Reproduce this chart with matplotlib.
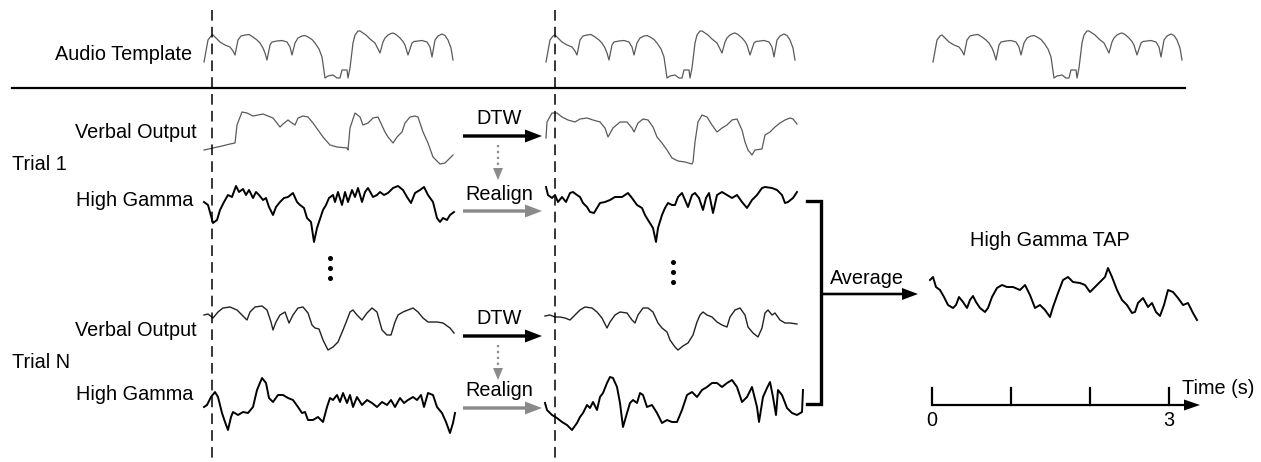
import numpy as np
import matplotlib.pyplot as plt

plt.rcParams['font.family'] = ['Liberation Sans', 'DejaVu Sans']

# ---------------- traces: (sample offset, amplitude) ----------------
# audio template (same shape drawn three times)
tmpl_t = [0, 4, 7, 9, 12, 16, 21, 26, 29, 31, 34, 37, 41, 45, 49, 53, 56, 59, 61, 63,
          66, 68, 73, 78, 83, 86, 88, 91, 94, 98, 101, 104, 108, 111, 115, 118, 121,
          124, 129, 133, 136, 138, 143, 144, 146, 149, 151, 154, 156, 159, 162, 166, 171, 176,
          179, 181, 184, 187, 189, 192, 196, 199, 201, 204,
          208, 210, 214, 218, 223, 226, 228, 231, 234, 238, 241, 244, 247, 249]
tmpl_v = [18, 40, 44, 45, 42, 38, 35, 33, 29, 25, 40, 44, 45, 45.5, 43, 40, 37, 32, 27, 20,
          35, 38, 39, 39.5, 38, 33, 25, 37, 42, 44, 44.5, 43, 40.5, 37, 31, 23, 2,
          4, 5, 2, 2, 10, 10, 2, 12, 37, 45, 49, 49, 47, 45, 41, 37, 27,
          38, 42, 45, 46.5, 47, 45.5, 42, 38.5, 35, 25,
          37, 38.5, 39, 39.5, 38, 33, 23, 40, 44, 46, 44.5, 40, 32, 20]

# trial 1, verbal output (raw)
vo1_t = [0, 9, 18, 26, 31, 33, 38, 43, 49, 59, 69, 76, 79, 84, 88, 91, 94, 99, 104, 109, 114, 119,
         126, 133, 143, 144, 146, 151, 156, 159, 164, 169, 174, 181, 184, 189, 193, 198, 201, 206,
         211, 214, 219, 224, 229, 233, 236, 241, 246, 249]
vo1_v = [15, 17, 19, 21, 22, 40, 53, 52, 49, 51, 47, 38, 41, 45, 42, 40, 47, 49, 48, 42, 35, 28,
         20, 18, 17, 15, 37, 52, 48, 40, 42, 47, 48, 33, 28, 22, 28, 33, 42, 48,
         49, 48, 33, 22, 8, 4, 1, 2, 7, 10]

# trial 1, high gamma (raw)
hg1_t = [0, 4, 9, 13, 16, 20, 24, 28, 32, 35, 39, 42, 45, 49, 52, 55, 59, 62, 65, 69, 72, 76, 80,
         84, 89, 93, 96, 100, 103, 107, 110, 113, 115, 119, 122, 125, 129, 131, 134, 138, 141, 144,
         148, 151, 154, 158, 161, 164, 169, 173, 176, 180, 184, 189, 194, 199, 203, 207, 211, 216,
         220, 224, 229, 233, 236, 239, 243, 246, 250]
hg1_v = [38, 35, 17, 20, 30, 38, 45, 43, 54, 48, 51, 45, 50, 42, 48, 45, 40, 42, 33, 25, 33, 38, 42,
         43, 47, 38, 35, 32, 22, 18, -2, 12, 18, 30, 35, 42, 45, 38, 48, 35, 48, 38,
         50, 43, 52, 38, 48, 52, 43, 45, 48, 45, 47, 52, 54, 50, 43, 37, 47, 50,
         53, 45, 38, 22, 18, 22, 20, 25, 28]

# trial 1, verbal output after DTW
avo1_t = [0, 1, 6, 11, 16, 22, 29, 34, 41, 47, 54, 59, 62, 67, 74, 81, 86, 88, 92, 97, 102, 107,
          111, 116, 121, 126, 132, 139, 146, 147, 149, 152, 156, 161, 166, 171, 176, 181, 186,
          191, 196, 199, 202, 206, 209, 216, 219, 224, 229, 234, 239, 244, 247, 251]
avo1_v = [27, 43, 52, 52, 48, 45, 43, 46, 47, 45, 43, 37, 28, 37, 43, 43, 37, 33, 42, 46, 45, 38,
          28, 22, 15, 7, 4, 3, 1, 3, 23, 43, 50, 48, 40, 33, 37, 40, 45,
          46, 35, 23, 15, 10, 15, 16, 30, 33, 38, 42, 45, 47, 46, 41]

# trial 1, high gamma realigned
ahg1_t = [0, 2, 6, 9, 12, 16, 20, 24, 27, 31, 34, 37, 41, 44, 48, 51, 54, 59, 64, 69, 76, 82, 86,
          91, 96, 99, 102, 107, 110, 112, 116, 119, 122, 126, 129, 132, 136, 139, 142, 146, 149,
          153, 157, 160, 163, 167, 171, 176, 181, 186, 191, 196, 201, 206, 211, 216, 219, 226,
          231, 236, 239, 242, 247, 251]
ahg1_v = [53, 45, 42, 45, 38, 43, 38, 47, 48, 45, 43, 37, 33, 28, 27, 32, 37, 38, 40, 43, 43, 47, 42,
          35, 32, 25, 20, 12, -2, 12, 25, 32, 37, 35, 35, 43, 47, 40, 33, 45, 47,
          42, 30, 42, 47, 27, 45, 48, 45, 42, 45, 38, 32, 40, 45, 52, 53, 52,
          50, 45, 37, 38, 42, 48]

# trial N, verbal output (raw)
von_t = [0, 4, 9, 14, 19, 26, 33, 38, 43, 46, 51, 58, 63, 67, 69, 72, 76, 81, 85, 89, 94, 99, 104,
         108, 111, 115, 119, 124, 129, 134, 139, 143, 146, 149, 153, 158, 163, 168, 173, 178, 183,
         187, 191, 194, 199, 204, 209, 214, 219, 224, 233, 239, 246, 250]
von_v = [35, 36, 32, 38, 42, 43, 40, 35, 30, 38, 43, 44, 40, 28, 20, 28, 35, 38, 27, 35, 42, 43, 37,
         25, 22, 21, 10, 0, 3, 8, 20, 30, 38, 40, 35, 30, 37, 42, 38, 20, 15,
         15, 28, 35, 38, 40, 42, 38, 32, 28, 28, 27, 22, 17]

# trial N, high gamma (raw)
hgn_t = [0, 3, 7, 11, 14, 18, 21, 24, 27, 29, 34, 39, 44, 49, 53, 58, 62, 65, 69, 74, 79, 84, 89,
         94, 98, 101, 104, 109, 114, 119, 123, 126, 129, 133, 136, 139, 143, 146, 149, 153, 158,
         163, 168, 173, 178, 183, 187, 191, 196, 200, 204, 209, 213, 217, 220, 224, 229, 233,
         238, 242, 246, 249, 251]
hgn_v = [33, 35, 43, 48, 43, 27, 18, 10, 23, 28, 25, 28, 27, 33, 50, 62, 57, 42, 38, 45, 45, 42, 40,
         33, 27, 28, 20, 20, 23, 18, 33, 42, 40, 45, 38, 47, 37, 45, 33, 43, 35,
         40, 37, 33, 38, 35, 40, 33, 42, 37, 40, 43, 40, 45, 33, 47, 45, 33,
         27, 18, 7, 17, 27]

# trial N, verbal output after DTW
avon_t = [0, 5, 10, 15, 20, 25, 30, 35, 40, 47, 52, 57, 62, 65, 70, 75, 82, 87, 90, 93, 98, 103,
          108, 113, 117, 122, 125, 130, 133, 138, 143, 148, 152, 155, 158, 162, 167, 172, 177,
          182, 185, 190, 195, 200, 203, 208, 213, 217, 220, 223, 227, 230, 235, 240, 245, 252]
avon_v = [34, 35, 33, 33, 32, 30, 35, 40, 43, 42, 38, 32, 22, 28, 35, 38, 37, 30, 27, 35, 42, 42,
          38, 27, 22, 18, 10, 3, 0, 4, 7, 15, 28, 35, 38, 35, 33, 28, 25,
          23, 33, 40, 42, 35, 23, 17, 13, 22, 37, 40, 35, 37, 30, 27, 27, 26]

# trial N, high gamma realigned
ahgn_t = [0, 2, 7, 12, 17, 22, 27, 32, 35, 38, 42, 45, 48, 52, 55, 58, 62, 65, 68, 72, 75, 78, 82,
          85, 88, 92, 95, 98, 102, 107, 112, 117, 122, 127, 132, 137, 142, 147, 152, 157, 162,
          167, 172, 177, 182, 187, 192, 197, 202, 207, 212, 214, 218, 222, 225, 228, 231, 233,
          237, 242, 247, 252, 257, 258]
ahgn_v = [37, 30, 25, 22, 18, 15, 10, 17, 23, 27, 35, 32, 38, 30, 43, 47, 57, 63, 62, 53, 37, 13, 27,
          37, 40, 37, 47, 45, 33, 35, 27, 17, 20, 18, 18, 30, 45, 48, 43, 50, 53,
          57, 57, 53, 57, 60, 53, 38, 43, 53, 33, 18, 43, 52, 58, 43, 25, 50,
          45, 32, 27, 25, 28, 50]

# trial-averaged high gamma
tap_t = [0, 3, 6, 10, 14, 18, 23, 26, 29, 33, 37, 40, 43, 46, 50, 55, 58, 62, 67, 72, 77, 83, 90,
         95, 100, 105, 110, 115, 120, 123, 128, 133, 138, 143, 150, 155, 160, 165, 170, 175, 178,
         182, 187, 192, 197, 202, 205, 208, 213, 218, 222, 226, 230, 234, 238, 243, 248, 253,
         258, 263, 267]
tap_v = [40, 43, 33, 30, 23, 15, 12, 15, 23, 18, 12, 20, 24, 18, 12, 8, 12, 23, 32, 35, 33, 33, 30,
         35, 25, 12, 15, 10, 3, 13, 27, 40, 43, 38, 37, 35, 28, 33, 38, 43, 52,
         43, 30, 20, 15, 7, 8, 17, 22, 13, 17, 8, 4, 15, 30, 28, 22, 15,
         17, 7, 0]

time_ticks = [0, 1, 2, 3]
time_labels = ['0', '', '', '3']

# ---------------- layout ----------------
fig = plt.figure(figsize=(12.61, 4.62), dpi=100)
ax = fig.add_axes([0, 0, 1, 1])
ax.set_xlim(0, 1261)
ax.set_ylim(462, 0)
ax.axis('off')

GRAY_T = '#5a5a5a'
GRAY_A = '#8a8a8a'
FS = 14.3


def trace(t, v, x0, base, color='k', lw=1.3):
    t = np.asarray(t, float)
    v = np.asarray(v, float)
    ax.plot(x0 + t, base - v, color=color, lw=lw, solid_joinstyle='round')


# audio template row
for x0 in [204, 546, 933]:
    trace(tmpl_t, tmpl_v, x0, 80, color=GRAY_T, lw=0.9)
ax.text(192, 55, 'Audio Template', ha='right', va='center', fontsize=FS)
ax.plot([12, 1185], [88, 88], color='k', lw=1.6)

# trial rows
trace(vo1_t, vo1_v, 204, 165, color=GRAY_T, lw=0.9)
trace(hg1_t, hg1_v, 204, 240, lw=1.4)
trace(avo1_t, avo1_v, 546, 165, color=GRAY_T, lw=0.9)
trace(ahg1_t, ahg1_v, 546, 240, lw=1.4)
trace(von_t, von_v, 204, 350, color='#222222', lw=1.0)
trace(hgn_t, hgn_v, 204, 440, lw=1.4)
trace(avon_t, avon_v, 545, 350, color='#222222', lw=1.0)
trace(ahgn_t, ahgn_v, 545, 440, lw=1.4)

ax.text(197, 133, 'Verbal Output', ha='right', va='center', fontsize=FS)
ax.text(12, 165, 'Trial 1', ha='left', va='center', fontsize=FS)
ax.text(193, 200, 'High Gamma', ha='right', va='center', fontsize=FS)
ax.text(197, 330, 'Verbal Output', ha='right', va='center', fontsize=FS)
ax.text(12, 363, 'Trial N', ha='left', va='center', fontsize=FS)
ax.text(193, 395, 'High Gamma', ha='right', va='center', fontsize=FS)

# dashed alignment markers
for xd in [212, 555]:
    ln, = ax.plot([xd, xd], [10, 462], color='k', lw=1.1)
    ln.set_dashes([7, 4])

# vertical ellipses
for xe, ye in [(330, 258), (673, 262)]:
    ax.plot([xe] * 3, [ye, ye + 10, ye + 20], 'o', color='k', ms=2.6)

# DTW / Realign arrows
for y_dtw, y_re in [(136, 211), (336, 408)]:
    ax.arrow(463, y_dtw, 79, 0, width=3.4, head_width=13, head_length=17,
             length_includes_head=True, color='k', lw=0)
    ax.text(499, y_dtw - 17, 'DTW', ha='center', va='center', fontsize=FS)
    ax.plot([498, 498], [y_dtw + 9, y_dtw + 34], color=GRAY_A, lw=1.6, ls=':')
    ax.arrow(498, y_dtw + 32, 0, 12, width=0.5, head_width=10, head_length=12,
             length_includes_head=True, color=GRAY_A, lw=0)
    ax.arrow(463, y_re, 79, 0, width=3.4, head_width=13, head_length=17,
             length_includes_head=True, color=GRAY_A, lw=0)
    ax.text(499, y_re - 17, 'Realign', ha='center', va='center', fontsize=FS)

# bracket and average arrow
ax.plot([807, 821, 821, 807], [201, 201, 404, 404], color='k', lw=2.4, solid_joinstyle='miter')
ax.arrow(821, 294, 97, 0, width=2.6, head_width=12, head_length=16,
         length_includes_head=True, color='k', lw=0)
ax.text(867, 278, 'Average', ha='center', va='center', fontsize=FS)

# averaged trace
trace(tap_t, tap_v, 930, 320, lw=1.4)
ax.text(1050, 240, 'High Gamma TAP', ha='center', va='center', fontsize=FS)

# time axis
px_per_s = (1169 - 932) / 3
ax.arrow(932, 405, 268, 0, width=2.2, head_width=11, head_length=16,
         length_includes_head=True, color='k', lw=0)
for tk, lab in zip(time_ticks, time_labels):
    xt = 932 + tk * px_per_s
    ax.plot([xt, xt], [405, 388], color='k', lw=1.6)
    if lab:
        ax.text(xt, 421, lab, ha='center', va='center', fontsize=FS)
ax.text(1182, 388, 'Time (s)', ha='left', va='center', fontsize=FS)

fig.savefig('out.png', dpi=100)
